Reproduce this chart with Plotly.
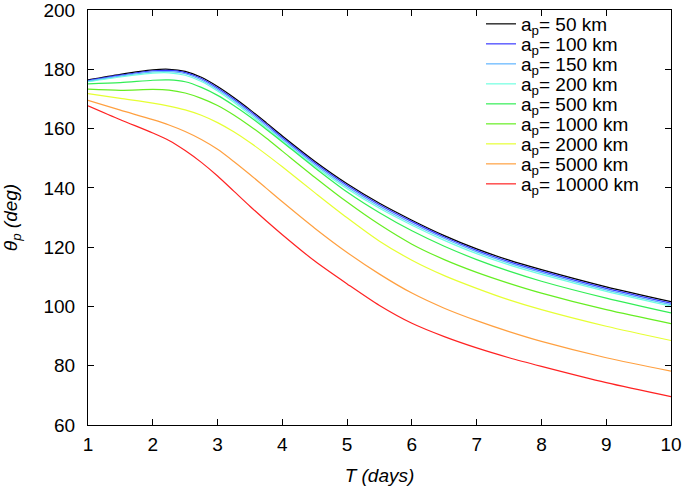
import plotly.graph_objects as go

T = [1, 1.5, 2, 2.25, 2.5, 2.75, 3, 3.25, 3.5, 3.75, 4, 4.5, 5, 5.5, 6, 6.5, 7, 7.5, 8, 9, 10]

labels = ["50", "100", "150", "200", "500", "1000", "2000", "5000", "10000"]

theta_50 = [176.4, 178.3, 179.8, 180.0, 179.3, 177.3, 174.2, 170.5, 166.4, 162.0, 157.5, 149.0, 141.4, 134.8, 129.1, 123.9, 119.4, 115.6, 112.4, 106.6, 101.6]
theta_100 = [176.2, 178.0, 179.5, 179.6, 178.9, 176.9, 173.7, 170.0, 165.9, 161.5, 157.0, 148.5, 140.9, 134.3, 128.6, 123.4, 118.9, 115.1, 111.9, 106.1, 101.1]
theta_150 = [176.0, 177.7, 179.1, 179.2, 178.5, 176.4, 173.2, 169.5, 165.3, 160.9, 156.4, 147.9, 140.3, 133.7, 128.0, 122.9, 118.4, 114.6, 111.4, 105.6, 100.6]
theta_200 = [175.8, 177.4, 178.7, 178.8, 178.0, 175.9, 172.7, 168.9, 164.7, 160.3, 155.8, 147.3, 139.7, 133.1, 127.4, 122.3, 117.8, 114.0, 110.8, 105.1, 100.1]
theta_500 = [175.1, 175.5, 176.3, 176.4, 175.8, 173.9, 171.2, 167.8, 164.0, 159.8, 155.5, 146.8, 138.6, 131.6, 125.5, 120.3, 115.8, 111.9, 108.5, 102.8, 97.8]
theta_1000 = [173.3, 172.9, 173.2, 173.0, 172.0, 170.2, 167.8, 164.6, 160.9, 156.8, 152.4, 143.6, 135.2, 127.6, 121.0, 115.8, 111.5, 107.8, 104.5, 98.9, 94.2]
theta_2000 = [171.8, 170.2, 168.6, 167.6, 166.3, 164.5, 162.0, 158.9, 155.3, 151.3, 147.1, 138.4, 129.9, 122.0, 115.6, 110.4, 106.1, 102.2, 98.9, 93.3, 88.5]
theta_5000 = [169.5, 166.2, 163.0, 161.2, 159.0, 156.3, 153.0, 148.9, 144.5, 139.9, 135.3, 126.4, 118.2, 110.9, 104.5, 99.4, 95.2, 91.5, 88.2, 82.7, 78.2]
theta_10000 = [167.7, 163.0, 158.5, 156.0, 152.6, 148.6, 144.0, 138.9, 133.8, 128.9, 124.2, 115.3, 107.6, 100.3, 94.3, 89.8, 86.0, 82.7, 79.8, 74.3, 69.6]

series = [theta_50, theta_100, theta_150, theta_200, theta_500,
          theta_1000, theta_2000, theta_5000, theta_10000]
colors = ["#000000", "#3a3aff", "#5fb4ff", "#70ffe0", "#33ee55",
          "#66ee22", "#e6ff33", "#ffa040", "#ff2222"]

FONT = "Liberation Sans, Arial, Helvetica, sans-serif"
W, H = 685, 486
ML, MR, MT, MB = 88, 14, 10, 61
PH = H - MT - MB

fig = go.Figure()
legend_layout = {}
for i, (lab, ys, col) in enumerate(zip(labels, series, colors)):
    lname = "legend" if i == 0 else f"legend{i+1}"
    fig.add_trace(go.Scatter(
        x=T, y=ys, mode="lines",
        line=dict(color=col, width=1.2, shape="spline", smoothing=0.8),
        name=f"a<sub>p</sub>= {lab} km",
        legend=lname,
    ))
    ypix = 24 + 20 * i
    legend_layout[lname] = dict(
        x=(481 - ML) / (W - ML - MR), xanchor="left",
        y=1 - (ypix - MT) / PH, yanchor="middle",
        bgcolor="rgba(0,0,0,0)", borderwidth=0,
        font=dict(size=19),
    )

fig.update_layout(
    width=W, height=H,
    margin=dict(l=ML, r=MR, t=MT, b=MB, autoexpand=False),
    paper_bgcolor="white", plot_bgcolor="white",
    font=dict(family=FONT, size=19, color="black"),
    showlegend=True,
    xaxis=dict(
        range=[1, 10], tickvals=list(range(1, 11)),
        ticks="inside", ticklen=6, tickcolor="black",
        showline=True, linecolor="black", linewidth=1, mirror="ticks",
        showgrid=False, zeroline=False, ticklabelstandoff=2,
        ticklabeloverflow="allow",
        title=dict(text="<i>T (days)</i>", font=dict(size=19), standoff=16),
    ),
    yaxis=dict(
        range=[60, 200], tickvals=list(range(60, 201, 20)),
        ticks="inside", ticklen=6, tickcolor="black",
        showline=True, linecolor="black", linewidth=1, mirror="ticks",
        showgrid=False, zeroline=False, ticklabelstandoff=8,
        ticklabeloverflow="allow",
        title=dict(text="<i>θ<sub>p</sub> (deg)</i>", font=dict(size=19), standoff=21),
    ),
    **legend_layout,
)

fig.write_html("out.html", config={"displayModeBar": False},
               post_script="document.body.style.margin='0';document.body.style.padding='0';")
